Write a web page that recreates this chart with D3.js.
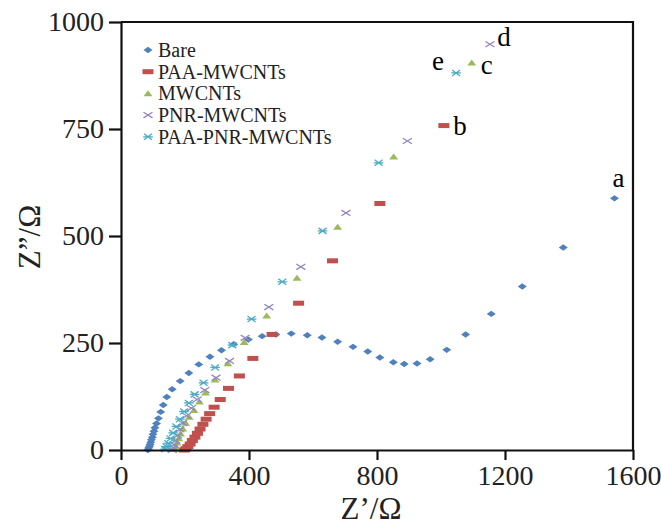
<!DOCTYPE html>
<html>
<head>
<meta charset="utf-8">
<script src="https://cdn.jsdelivr.net/npm/d3@7"></script>
<style>
  body { margin: 0; background: #fff; }
  svg text { font-family: "Liberation Serif", "Times New Roman", serif; }
</style>
</head>
<body>
<div id="chart-container"></div>
<script>
// Nyquist data, [Z', Z''] in ohm
const bareData = [
  [84, 0], [85, 2], [87, 5], [89, 9], [91, 13], [93, 18], [95, 24], [98, 30],
  [100, 37], [103, 44], [106, 52], [111, 62], [117, 74], [124, 89], [132, 105],
  [143, 124], [160, 142], [185, 161], [212, 180], [243, 200], [278, 218],
  [314, 233], [352, 247], [398, 258], [441, 266], [484, 270], [532, 272],
  [582, 268], [628, 263], [677, 253], [725, 241], [771, 230], [809, 216],
  [851, 205], [885, 201], [925, 202], [966, 212], [1018, 234], [1077, 270],
  [1157, 318], [1254, 382], [1382, 473], [1542, 588]
];
const paaMwcntsData = [
  [198, 0], [203, 3], [209, 8], [216, 14], [223, 22], [231, 30], [239, 39],
  [247, 49], [256, 60], [266, 72], [277, 85], [291, 100], [310, 118],
  [336, 144], [370, 173], [412, 214], [472, 270], [555, 343], [661, 442],
  [809, 576], [1009, 758]
];
const mwcntsData = [
  [168, 2], [171, 8], [175, 17], [180, 27], [186, 38], [193, 50], [202, 63],
  [213, 77], [228, 93], [245, 113], [264, 134], [294, 164], [334, 202],
  [385, 252], [455, 314], [550, 402], [677, 521], [852, 685], [1096, 905]
];
const pnrMwcntsData = [
  [160, 0], [163, 5], [166, 12], [171, 22], [177, 34], [184, 48], [193, 63],
  [205, 80], [220, 98], [238, 118], [262, 140], [297, 169], [339, 208],
  [388, 262], [462, 334], [562, 428], [703, 554], [895, 722], [1153, 948]
];
const paaPnrMwcntsData = [
  [138, 2], [142, 8], [148, 16], [155, 27], [163, 40], [173, 55], [184, 72],
  [197, 90], [212, 110], [230, 130], [258, 157], [294, 193], [348, 245],
  [408, 306], [504, 393], [630, 512], [805, 671], [1047, 881]
];

const seriesNames = ['Bare', 'PAA-MWCNTs', 'MWCNTs', 'PNR-MWCNTs', 'PAA-PNR-MWCNTs'];
const seriesLetters = ['a', 'b', 'c', 'd', 'e'];
const xTicks = [0, 400, 800, 1200, 1600];
const yTicks = [0, 250, 500, 750, 1000];

function createChart(elementId) {

  // container dimensions
  const width = 661;
  const height = 525;
  const margins = { top: 22, right: 28, bottom: 75, left: 121 };
  const innerWidth = width - margins.left - margins.right;
  const innerHeight = height - margins.top - margins.bottom;

  const svg = d3.select(elementId)
    .append('svg')
    .attr('width', width)
    .attr('height', height);

  const g = svg.append('g')
    .attr('transform', `translate(${margins.left},${margins.top})`);

  const xScale = d3.scaleLinear().domain([0, 1600]).range([0, innerWidth]);
  const yScale = d3.scaleLinear().domain([0, 1000]).range([innerHeight, 0]);

  // marker shapes per series
  const colors = ['#4F81BD', '#C0504D', '#9BBB59', '#9385C2', '#4BACC6'];
  const markers = [
    (sel, c) => sel.append('path').attr('d', 'M-4.5,0L0,-3.2L4.5,0L0,3.2Z').attr('fill', c),
    (sel, c) => sel.append('rect').attr('x', -5.5).attr('y', -2.5).attr('width', 11).attr('height', 5).attr('fill', c),
    (sel, c) => sel.append('path').attr('d', 'M-4.5,2.8L0,-3.2L4.5,2.8Z').attr('fill', c),
    (sel, c) => sel.append('path').attr('d', 'M-4.5,-2.8L4.5,2.8M-4.5,2.8L4.5,-2.8')
      .attr('stroke', c).attr('stroke-width', 1.3).attr('fill', 'none'),
    (sel, c) => sel.append('path').attr('d', 'M-4,-3L4,3M-4,3L4,-3M-4.8,0L4.8,0')
      .attr('stroke', c).attr('stroke-width', 1.3).attr('fill', 'none')
  ];

  const allData = [bareData, paaMwcntsData, mwcntsData, pnrMwcntsData, paaPnrMwcntsData];

  allData.forEach((data, i) => {
    g.append('g')
      .attr('class', 'series')
      .selectAll('g')
      .data(data)
      .enter()
      .append('g')
      .attr('transform', d => `translate(${xScale(d[0])},${yScale(d[1])})`)
      .each(function () { markers[i](d3.select(this), colors[i]); });
  });

  // letters next to the last point of each series
  const letterOffsets = [[4, -20], [16, 0], [15, 2], [14, -7], [-18, -12]];
  seriesLetters.forEach((l, i) => {
    const last = allData[i][allData[i].length - 1];
    g.append('text')
      .attr('x', xScale(last[0]) + letterOffsets[i][0])
      .attr('y', yScale(last[1]) + letterOffsets[i][1])
      .attr('text-anchor', 'middle')
      .attr('dominant-baseline', 'central')
      .style('font-size', '27px')
      .text(l);
  });

  // axes
  const xAxis = g.append('g')
    .attr('transform', `translate(0,${innerHeight})`)
    .call(d3.axisBottom(xScale).tickValues(xTicks).tickFormat(d3.format('d'))
      .tickSize(10).tickSizeOuter(0).tickPadding(5));
  const yAxis = g.append('g')
    .call(d3.axisLeft(yScale).tickValues(yTicks).tickFormat(d3.format('d'))
      .tickSize(12).tickSizeOuter(0).tickPadding(5));

  [xAxis, yAxis].forEach(ax => {
    ax.select('.domain').attr('stroke', '#111').attr('stroke-width', 2.2);
    ax.selectAll('.tick line').attr('stroke', '#111').attr('stroke-width', 2.2);
    ax.selectAll('.tick text')
      .attr('fill', '#222')
      .style('font-family', '"Liberation Serif", serif')
      .style('font-size', '28px');
  });

  // frame top & right
  g.append('path')
    .attr('d', `M0,0H${innerWidth}V${innerHeight}`)
    .attr('fill', 'none')
    .attr('stroke', '#111')
    .attr('stroke-width', 2.2);

  // axis titles
  svg.append('text')
    .attr('x', 371)
    .attr('y', 519)
    .attr('text-anchor', 'middle')
    .style('font-size', '31px')
    .attr('fill', '#222')
    .text('Z\u2019/\u03A9');

  svg.append('text')
    .attr('transform', 'translate(40,237) rotate(-90)')
    .attr('text-anchor', 'middle')
    .style('font-size', '31px')
    .attr('fill', '#222')
    .text('Z\u201D/\u03A9');

  // legend
  const legend = svg.append('g')
    .attr('transform', 'translate(148,50)');

  seriesNames.forEach((name, i) => {
    const row = legend.append('g').attr('transform', `translate(0,${i * 21.7})`);
    markers[i](row, colors[i]);
    row.append('text')
      .attr('x', 10)
      .attr('y', 0)
      .attr('dominant-baseline', 'central')
      .style('font-size', '20px')
      .attr('fill', '#222')
      .text(name);
  });
}

createChart('#chart-container');
</script>
</body>
</html>
